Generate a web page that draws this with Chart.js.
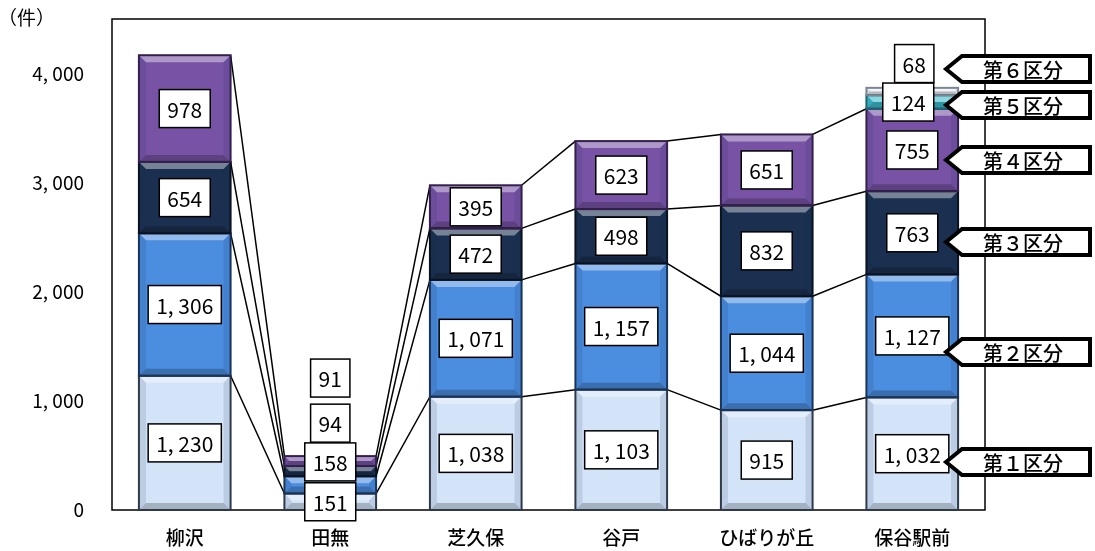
<!DOCTYPE html>
<html>
<head>
<meta charset="utf-8">
<script src="https://cdn.jsdelivr.net/npm/chart.js@4"></script>
<style>
  body { margin: 0; background: #fff; }
</style>
</head>
<body>
<canvas id="chart" width="1095" height="551"></canvas>
<script>
const categories = ["柳沢", "田無", "芝久保", "谷戸", "ひばりが丘", "保谷駅前"];
const seriesNames = ["第１区分", "第２区分", "第３区分", "第４区分", "第５区分", "第６区分"];
const kubun1 = [1230, 151, 1038, 1103, 915, 1032];
const kubun2 = [1306, 158, 1071, 1157, 1044, 1127];
const kubun3 = [654, 94, 472, 498, 832, 763];
const kubun4 = [978, 91, 395, 623, 651, 755];
const kubun5 = [null, null, null, null, null, 124];
const kubun6 = [null, null, null, null, null, 68];
const yTicks = [0, 1000, 2000, 3000, 4000];

const colors = ["#d3e3f8", "#4b8ddf", "#1b3050", "#7853a5", "#3cbccc", "#e6edf5"];
const edgeColors = ["#2e3a4a", "#1a3459", "#0a1220", "#35204d", "#1d6570", "#7d8590"];

// label boxes that sit away from their segment (dataset, category, dx, dy)
const labelShift = [
  [1, 1, 0, -23],
  [2, 1, 0, -48],
  [3, 1, 0, -83],
  [4, 5, -4, 0],
  [5, 5, 2, -28],
];
// callout arrows on the right (y centre for 第1..第6)
const calloutY = [462, 352, 242, 160, 105, 69];

const fmt = (v) => v.toLocaleString("en-US").replace(",", ", ");
const JP = '"Noto Sans CJK JP", "Noto Sans", sans-serif';

const decor = {
  id: "decor",
  beforeDatasetsDraw(chart) {
    const ctx = chart.ctx;
    const a = chart.chartArea;
    ctx.save();
    ctx.strokeStyle = "#000";
    ctx.lineWidth = 1.5;
    ctx.strokeRect(a.left, a.top, a.right - a.left, a.bottom - a.top);
    // series lines
    for (let s = 0; s < 4; s++) {
      const pts = chart.getDatasetMeta(s).data;
      ctx.beginPath();
      for (let i = 0; i < pts.length - 1; i++) {
        const p = pts[i], q = pts[i + 1];
        ctx.moveTo(p.x + p.width / 2, p.y);
        ctx.lineTo(q.x - q.width / 2, q.y);
      }
      ctx.stroke();
    }
    ctx.restore();
  },
  afterDatasetsDraw(chart) {
    const ctx = chart.ctx;
    ctx.save();

    // bevel look on each bar segment
    chart.data.datasets.forEach((ds, s) => {
      chart.getDatasetMeta(s).data.forEach((el, i) => {
        if (ds.data[i] == null) return;
        const l = el.x - el.width / 2, r = el.x + el.width / 2;
        const t = el.y, b = el.base;
        const bv = Math.min(7, (b - t) / 2);
        ctx.fillStyle = "rgba(255,255,255,0.4)";
        ctx.beginPath();
        ctx.moveTo(l, t); ctx.lineTo(r, t); ctx.lineTo(r - bv, t + bv); ctx.lineTo(l + bv, t + bv);
        ctx.closePath(); ctx.fill();
        ctx.fillStyle = "rgba(0,0,0,0.22)";
        ctx.beginPath();
        ctx.moveTo(l, b); ctx.lineTo(r, b); ctx.lineTo(r - bv, b - bv); ctx.lineTo(l + bv, b - bv);
        ctx.closePath(); ctx.fill();
        ctx.fillStyle = "rgba(20,40,80,0.12)";
        ctx.beginPath();
        ctx.moveTo(l, t); ctx.lineTo(l + bv, t + bv); ctx.lineTo(l + bv, b - bv); ctx.lineTo(l, b);
        ctx.closePath(); ctx.fill();
        ctx.beginPath();
        ctx.moveTo(r, t); ctx.lineTo(r - bv, t + bv); ctx.lineTo(r - bv, b - bv); ctx.lineTo(r, b);
        ctx.closePath(); ctx.fill();
        ctx.strokeStyle = edgeColors[s];
        ctx.lineWidth = 2;
        ctx.strokeRect(l, t, r - l, b - t);
      });
    });

    // value label boxes
    ctx.font = "21px " + JP;
    ctx.textAlign = "center";
    ctx.textBaseline = "middle";
    chart.data.datasets.forEach((ds, s) => {
      chart.getDatasetMeta(s).data.forEach((el, i) => {
        const v = ds.data[i];
        if (v == null) return;
        let cx = el.x, cy = (el.y + el.base) / 2;
        labelShift.forEach((m) => {
          if (m[0] === s && m[1] === i) { cx += m[2]; cy += m[3]; }
        });
        const txt = fmt(v);
        const w = ctx.measureText(txt).width + 16, h = 38;
        ctx.fillStyle = "#fff";
        ctx.fillRect(cx - w / 2, cy - h / 2, w, h);
        ctx.strokeStyle = "#000";
        ctx.lineWidth = 1.5;
        ctx.strokeRect(cx - w / 2, cy - h / 2, w, h);
        ctx.fillStyle = "#000";
        ctx.fillText(txt, cx, cy + 1);
      });
    });

    // callouts
    const tip = 946, body = 962, right = 1090, hh = 13;
    ctx.font = "500 20px " + JP;
    seriesNames.forEach((name, s) => {
      const cy = calloutY[s];
      ctx.beginPath();
      ctx.moveTo(tip, cy);
      ctx.lineTo(body, cy - hh);
      ctx.lineTo(right, cy - hh);
      ctx.lineTo(right, cy + hh);
      ctx.lineTo(body, cy + hh);
      ctx.closePath();
      ctx.fillStyle = "#fff";
      ctx.fill();
      ctx.lineWidth = 4;
      ctx.lineJoin = "miter";
      ctx.strokeStyle = "#000";
      ctx.stroke();
      ctx.fillStyle = "#000";
      ctx.fillText(name, 1023, cy + 1);
    });

    // unit
    ctx.font = "19px " + JP;
    ctx.textAlign = "left";
    ctx.fillText("（件）", -2, 18);
    ctx.restore();
  },
};

const mk = (i, data) => ({
  label: seriesNames[i],
  data: data,
  backgroundColor: colors[i],
  borderWidth: 0,
  categoryPercentage: 1,
  barPercentage: 0.63,
});

new Chart(document.getElementById("chart"), {
  type: "bar",
  data: {
    labels: categories,
    datasets: [mk(0, kubun1), mk(1, kubun2), mk(2, kubun3), mk(3, kubun4), mk(4, kubun5), mk(5, kubun6)],
  },
  options: {
    responsive: false,
    animation: false,
    layout: { padding: { top: 19, right: 110, left: 0, bottom: 0 } },
    plugins: { legend: { display: false }, tooltip: { enabled: false } },
    scales: {
      x: {
        stacked: true,
        grid: { display: false },
        border: { display: false },
        ticks: { color: "#000", font: { family: JP, size: 19, weight: "500" }, padding: 8 },
        afterFit: (sc) => { sc.height = 41; sc.paddingLeft = 0; sc.paddingRight = 0; },
      },
      y: {
        stacked: true,
        min: 0,
        max: 4500,
        grid: { display: false },
        border: { display: false },
        afterBuildTicks: (sc) => { sc.ticks = yTicks.map((v) => ({ value: v })); },
        ticks: { color: "#000", font: { family: JP, size: 19 }, padding: 20, callback: (v) => fmt(v) },
        afterFit: (sc) => { sc.width = 112; sc.paddingTop = 0; sc.paddingBottom = 0; },
      },
    },
  },
  plugins: [decor],
});
</script>
</body>
</html>
